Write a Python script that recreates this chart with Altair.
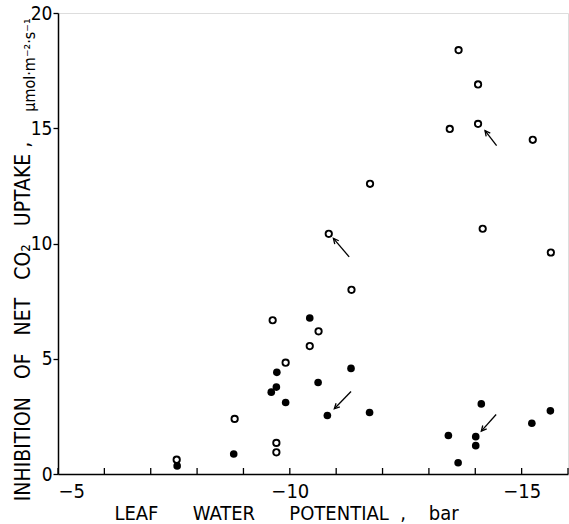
import altair as alt
import pandas as pd

# Open circles
open_x = [-7.56, -8.81, -9.63, -9.71, -9.71, -9.91, -10.43, -10.62, -10.84, -11.33,
          -11.73, -13.45, -13.64, -14.06, -14.06, -14.16, -15.24, -15.63]
open_y = [0.62, 2.39, 6.67, 1.35, 0.94, 4.83, 5.55, 6.19, 10.42, 7.99,
          12.59, 14.97, 18.39, 16.9, 15.19, 10.64, 14.5, 9.61]
# Filled circles
fill_x = [-7.57, -8.79, -9.60, -9.71, -9.72, -9.91, -10.43, -10.61, -10.81, -11.32,
          -11.72, -13.42, -13.63, -14.01, -14.01, -14.13, -15.22, -15.62]
fill_y = [0.35, 0.87, 3.55, 3.77, 4.41, 3.10, 6.77, 3.97, 2.54, 4.58,
          2.67, 1.67, 0.49, 1.62, 1.23, 3.04, 2.20, 2.74]
# Arrows (tail -> head)
arrow_tail_x = [-11.28, -14.46, -11.32, -14.45]
arrow_tail_y = [9.42, 14.25, 3.58, 2.58]
arrow_head_x = [-10.94, -14.21, -10.96, -14.13]
arrow_head_y = [10.22, 14.90, 2.83, 1.86]
arrow_angle = [320, 322, 224, 221]

x_ticks = [-5, -10, -15]
x_minor = [-5, -6, -7, -8, -9, -10, -11, -12, -13, -14, -15, -16]
y_ticks = [0, 5, 10, 15, 20]

FONT = "DejaVu Sans Condensed, Liberation Sans Narrow, DejaVu Sans"
NB = "\u00a0"

df_open = pd.DataFrame({"x": open_x, "y": open_y})
df_fill = pd.DataFrame({"x": fill_x, "y": fill_y})
df_arr = pd.DataFrame({"x": arrow_tail_x, "y": arrow_tail_y,
                       "x2": arrow_head_x, "y2": arrow_head_y, "ang": arrow_angle})
df_minor = pd.DataFrame({"t": x_minor})

xscale = alt.Scale(domain=[-16, -5], reverse=True, nice=False, zero=False)
yscale = alt.Scale(domain=[0, 20], nice=False, zero=True)

xtitle = "LEAF" + NB * 6 + "WATER" + NB * 6 + "POTENTIAL" + NB * 2 + "," + NB * 4 + "bar"
ytitle = ("INHIBITION" + NB * 3 + "OF" + NB * 3 + "NET" + NB * 3 + "CO\u2082" + NB * 3
          + "UPTAKE" + NB + ",")

xaxis = alt.Axis(values=x_ticks, format="d", tickSize=0, labelFont=FONT, labelFontSize=20,
                 labelColor="black", labelPadding=7, domainColor="black", domainWidth=1.5,
                 grid=False, title=xtitle, titleFont=FONT, titleFontSize=20,
                 titleFontWeight="normal", titleColor="black", titleX=228, titleY=45,
                 titleBaseline="alphabetic", titleAlign="center")
yaxis = alt.Axis(values=y_ticks, tickSize=5, tickColor="black", tickWidth=1.3,
                 labelFont=FONT, labelFontSize=19, labelColor="black", labelPadding=1,
                 domainColor="black", domainWidth=1.5, grid=False, title=ytitle,
                 titleFont=FONT, titleFontSize=21, titleFontWeight="normal",
                 titleColor="black", titleX=-29, titleY=308, titleAngle=270,
                 titleBaseline="alphabetic", titleAlign="center")

base_open = alt.Chart(df_open).mark_point(
    shape="circle", filled=False, color="black", size=40, strokeWidth=1.9, opacity=1
).encode(x=alt.X("x:Q", scale=xscale, axis=xaxis), y=alt.Y("y:Q", scale=yscale, axis=yaxis))

fill_pts = alt.Chart(df_fill).mark_point(
    shape="circle", filled=True, color="black", size=58, opacity=1
).encode(x=alt.X("x:Q", scale=xscale), y=alt.Y("y:Q", scale=yscale))

shafts = alt.Chart(df_arr).mark_rule(color="black", strokeWidth=1.3).encode(
    x=alt.X("x:Q", scale=xscale), y=alt.Y("y:Q", scale=yscale),
    x2="x2:Q", y2="y2:Q")

heads = alt.Chart(df_arr).mark_point(
    shape="M-0.55,1.1L0,0L0.55,1.1", filled=False, color="black", size=90,
    strokeWidth=1.3, opacity=1
).encode(x=alt.X("x2:Q", scale=xscale), y=alt.Y("y2:Q", scale=yscale),
         angle=alt.Angle("ang:Q", scale=None))

minor = alt.Chart(df_minor).mark_rule(color="black", strokeWidth=1.3).encode(
    x=alt.X("t:Q", scale=xscale), y=alt.value(461), y2=alt.value(455))

unit = alt.Chart(pd.DataFrame({"u": ["\u00b5mol\u00b7m\u207b\u00b2\u00b7s\u207b\u00b9"]})).mark_text(
    font=FONT, fontSize=16, color="black", angle=270, align="center", baseline="alphabetic"
).encode(text="u:N", x=alt.value(-23), y=alt.value(52))

chart = alt.layer(base_open, fill_pts, shafts, heads, minor, unit).properties(
    width=510, height=461,
    autosize=alt.AutoSizeParams(type="none"),
    padding={"left": 58, "top": 13, "right": 1, "bottom": 50},
).configure_view(stroke="black", strokeWidth=1.5).configure(background="white")

chart.save("out.html", embed_options={"renderer": "svg", "actions": False})
